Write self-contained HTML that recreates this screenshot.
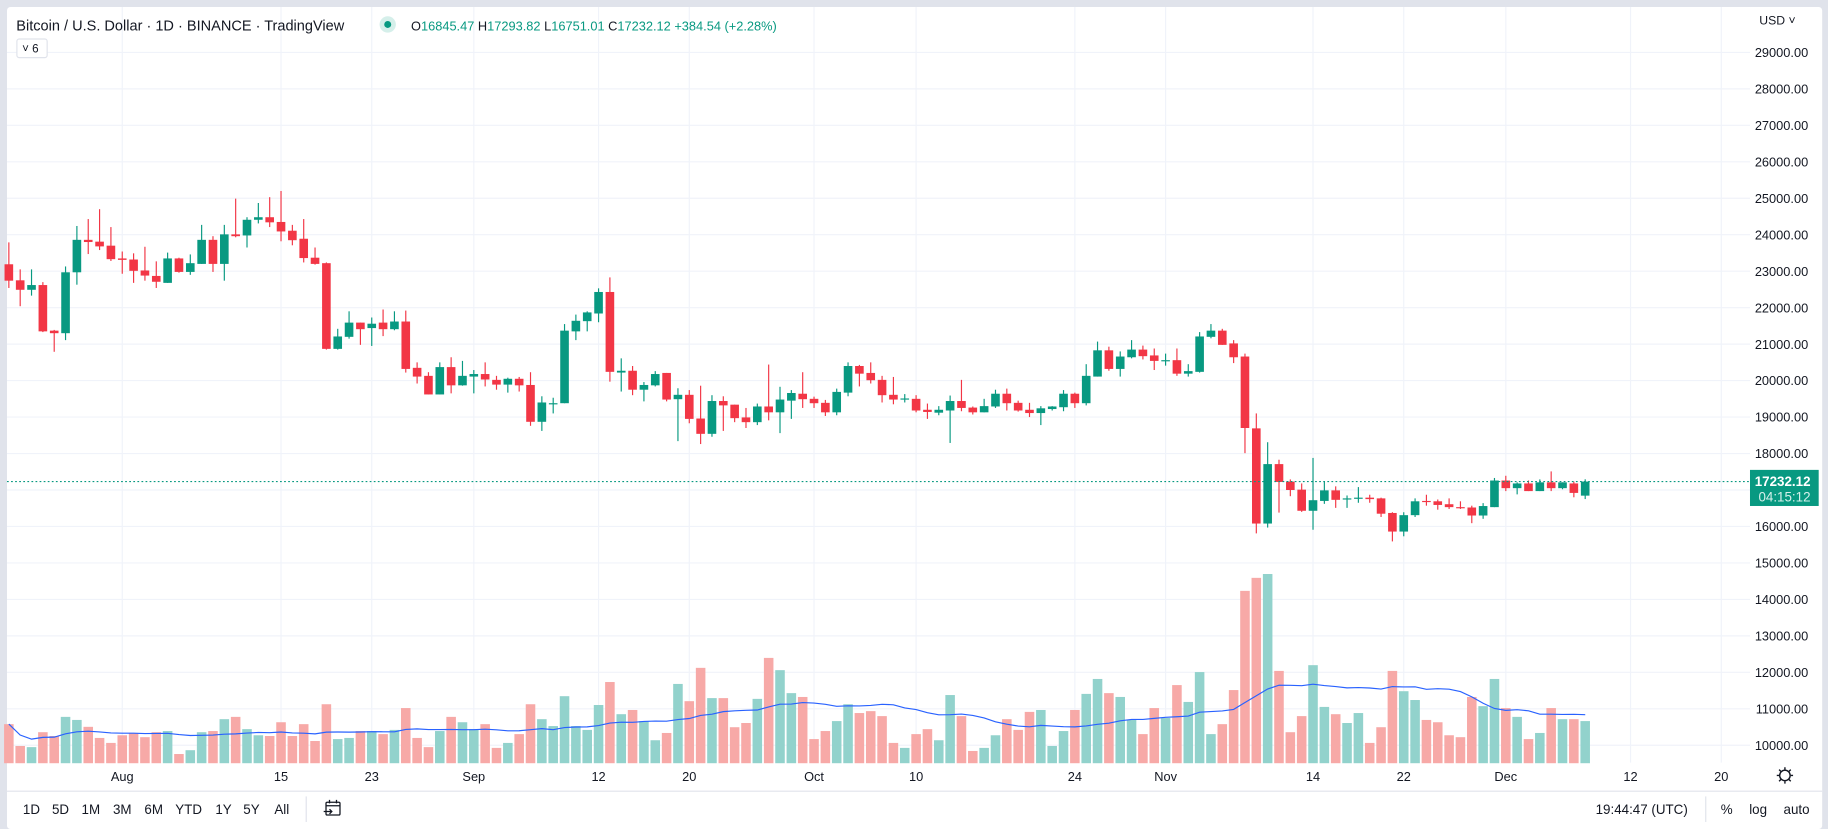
<!DOCTYPE html>
<html><head><meta charset="utf-8"><title>BTCUSD chart</title>
<style>
html,body{margin:0;padding:0;background:#e0e3eb;overflow:hidden}
svg{display:block}
text{font-family:"Liberation Sans",sans-serif}
</style></head>
<body>
<svg id="chart" width="1828" height="829" viewBox="0 0 1570 712" preserveAspectRatio="none" xmlns="http://www.w3.org/2000/svg">
  <rect x="0" y="0" width="1570" height="712" fill="#e0e3eb"/>
  <rect x="6" y="6" width="1559" height="706" rx="3" fill="#ffffff"/>
  <g id="grid"></g>
  <g id="volumes"></g>
  <path id="vma" fill="none" stroke="#2962ff" stroke-width="1"/>
  <g id="candles"></g>
  <line id="lastline" x1="6" x2="1503" stroke="#089981" stroke-width="1" stroke-dasharray="1.5,2"/>
  <g id="pricelabels"></g>
  <g id="timelabels"></g>
  <g>
    <rect id="badge" x="1503" width="59" height="31" fill="#089981"/>
    <text id="badgeP" x="1555" text-anchor="end" font-size="11.5" font-weight="bold" fill="#fff">17232.12</text>
    <text id="badgeT" x="1555" text-anchor="end" font-size="11.5" fill="#d6f0eb">04:15:12</text>
  </g>
  <text x="1511" y="21" font-size="10.5" fill="#131722">USD ˅</text>
  <text x="14" y="26" font-size="12.5" fill="#131722">Bitcoin / U.S. Dollar · 1D · BINANCE · TradingView</text>
  <circle cx="333" cy="21" r="7" fill="#d5efea"/>
  <circle cx="333" cy="21" r="3" fill="#089981"/>
  <text x="353" y="26" font-size="11" fill="#089981"><tspan fill="#131722">O</tspan>16845.47 <tspan fill="#131722">H</tspan>17293.82 <tspan fill="#131722">L</tspan>16751.01 <tspan fill="#131722">C</tspan>17232.12 +384.54 (+2.28%)</text>
  <rect x="14.5" y="33.5" width="26" height="16" rx="2" fill="#fff" stroke="#e0e3eb"/>
  <text x="19" y="45" font-size="10" fill="#131722">˅ 6</text>
  <line x1="6" x2="1565" y1="679.5" y2="679.5" stroke="#e0e3eb"/>
  <g transform="translate(1533,666)">
    <circle r="4.5" fill="none" stroke="#131722" stroke-width="1.2"/>
    <path d="M0,-7V-5M0,5V7M-7,0H-5M5,0H7M-5,-5L-3.5,-3.5M3.5,3.5L5,5M-5,5L-3.5,3.5M3.5,-3.5L5,-5" stroke="#131722" stroke-width="1.2"/>
  </g>
  <g font-size="11.5" fill="#131722" text-anchor="middle">
    <text x="27" y="699">1D</text>
    <text x="52" y="699">5D</text>
    <text x="78" y="699">1M</text>
    <text x="105" y="699">3M</text>
    <text x="132" y="699">6M</text>
    <text x="162" y="699">YTD</text>
    <text x="192" y="699">1Y</text>
    <text x="216" y="699">5Y</text>
    <text x="242" y="699">All</text>
  </g>
  <line x1="263" x2="263" y1="684" y2="706" stroke="#e0e3eb"/>
  <g stroke="#131722" fill="none" stroke-width="1.1">
    <rect x="280" y="689" width="12" height="11" rx="1"/>
    <path d="M280,692H292M283,687V690M289,687V690M278,697H285M283,695L285,697L283,699"/>
  </g>
  <text x="1410" y="699" font-size="11.5" text-anchor="middle" fill="#131722">19:44:47 (UTC)</text>
  <line x1="1465" x2="1465" y1="684" y2="706" stroke="#e0e3eb"/>
  <text x="1483" y="699" font-size="11.5" text-anchor="middle" fill="#131722">%</text>
  <text x="1510" y="699" font-size="11.5" text-anchor="middle" fill="#131722">log</text>
  <text x="1543" y="699" font-size="11.5" text-anchor="middle" fill="#131722">auto</text>
</svg>
<script>
const opens=[23190,22750,22490,22620,21370,21300,22970,23860,23810,23700,23350,23320,23020,22870,22680,23350,22980,23200,23860,23200,24010,23980,24410,24480,24350,24110,23890,23370,23220,20870,21200,21590,21440,21590,21410,21620,20350,20130,19620,20370,19870,20110,20180,20020,19890,20050,19880,18870,19360,19380,21350,21630,21840,22430,20220,20270,19750,19870,20210,19490,19610,18960,18540,19440,19340,18990,18860,19290,19130,19450,19640,19500,19390,19130,19670,20400,20210,20020,19610,19490,19500,19200,19120,19180,19440,19260,19130,19290,19640,19390,19200,19110,19220,19270,19640,19380,20110,20830,20320,20640,20850,20690,20540,20560,20190,20240,21200,21370,21020,20660,18690,16080,17710,17230,17010,16430,16700,16990,16750,16770,16790,16770,16370,15860,16310,16700,16690,16610,16530,16520,16300,16530,17260,17050,17180,16970,17210,17050,17180,16845];
const highs=[23790,23050,23050,22700,21390,23130,24240,24430,24700,24210,23540,23490,23670,23270,23510,23370,23460,24270,23960,24270,24990,24480,24870,25030,25200,24270,24430,23650,23240,21420,21900,21590,21730,21950,21900,21920,20500,20230,20500,20640,20540,20290,20500,20130,20080,20100,20230,19570,19530,21550,21810,21900,22530,22830,20610,20400,19960,20260,20210,19790,19740,19860,19600,19570,19340,19250,19370,20440,19830,19740,20230,19560,19470,19780,20500,20430,20500,20130,20100,19630,19600,19370,19300,19590,20020,19290,19500,19750,19780,19450,19390,19300,19300,19740,19670,20450,21070,20930,20800,21110,20960,20880,20740,20880,20450,21330,21550,21420,21110,20740,19100,18310,17830,17290,17180,17880,17230,17100,16850,17080,16870,16790,16390,16390,16770,16870,16740,16770,16690,16570,16640,17330,17390,17210,17260,17290,17510,17210,17230,17293];
const lows=[22540,22040,22330,21330,20790,21110,22630,23470,23580,23280,22930,22680,22740,22540,22680,22960,22900,23200,22980,22740,23930,23650,24310,24210,23820,23710,23240,23180,20850,20850,21150,20980,20950,21220,21380,20220,19920,19620,19620,19650,19860,19650,19840,19750,19670,19700,18760,18620,19100,19380,21110,21350,21600,19970,19700,19600,19430,19840,19430,18340,18830,18260,18460,18620,18860,18700,18780,18910,18560,18950,19250,19250,19030,19050,19570,19840,19920,19400,19350,19400,19130,18950,19050,18290,19160,19070,19130,19250,19180,19150,19000,18780,19180,19160,19250,19320,20110,20270,20110,20610,20580,20290,20410,20130,20110,20220,21160,20980,20480,18010,15810,15970,16380,16830,16400,15910,16620,16510,16510,16650,16650,16260,15590,15730,16260,16570,16460,16480,16480,16090,16210,16530,16970,16880,16970,16970,16970,17020,16800,16751];
const closes=[22740,22490,22620,21350,21300,22970,23860,23800,23680,23330,23310,23010,22880,22710,23350,22980,23220,23860,23200,24010,23960,24410,24480,24340,24090,23850,23360,23200,20870,21210,21590,21410,21560,21410,21620,20320,20110,19620,20370,19870,20130,20180,20030,19890,20050,19870,18870,19400,19380,21370,21640,21870,22430,20240,20270,19750,19880,20180,19480,19610,18950,18540,19440,19320,18970,18860,19290,19130,19480,19660,19490,19380,19130,19690,20400,20190,20010,19600,19480,19510,19180,19140,19200,19440,19250,19130,19300,19640,19380,19180,19110,19240,19290,19640,19380,20130,20830,20320,20660,20850,20670,20540,20560,20190,20260,21210,21370,20980,20640,18700,16080,17710,17220,17000,16430,16720,16990,16730,16770,16790,16750,16350,15860,16310,16690,16670,16590,16530,16510,16300,16560,17260,17050,17180,16970,17210,17050,17210,16920,17232];
const volumes=[102,45,42,81,71,121,113,95,66,53,73,79,68,81,84,24,34,81,84,115,121,89,73,71,107,71,102,58,154,63,66,84,84,76,87,144,66,42,84,121,107,89,102,40,53,76,154,115,97,175,97,87,152,212,128,139,110,60,79,207,162,249,170,170,94,105,168,275,243,183,173,63,84,110,154,131,136,123,53,40,76,89,60,178,123,32,40,73,115,87,134,139,45,84,139,181,220,183,173,113,76,144,118,204,160,238,76,102,191,450,484,494,241,81,123,256,147,128,105,131,53,94,241,188,165,113,107,73,68,173,149,220,144,121,63,79,144,115,115,110];
const priceTicks=[29000,28000,27000,26000,25000,24000,23000,22000,21000,20000,19000,18000,17000,16000,15000,14000,13000,12000,11000,10000];
const tickLabels=['Aug','15','23','Sep','12','20','Oct','10','24','Nov','14','22','Dec','12','20'];
const tickDays=[10,24,32,41,52,60,71,80,94,102,115,123,132,143,151];
const lastPrice=17232.12;

const NS='http://www.w3.org/2000/svg';
function xScale(i){return 105+9.74*(i-10);}
function yScale(p){return 45+(29000-p)*0.03132;}
function vScale(v){return 655.5-v/3.04;}
function mk(tag,attrs,parent){const e=document.createElementNS(NS,tag);for(const k in attrs)e.setAttribute(k,attrs[k]);parent.appendChild(e);return e;}

const grid=document.getElementById('grid');
priceTicks.forEach(p=>{
  const l=mk('line',{x1:6,x2:1503,y1:yScale(p),y2:yScale(p),stroke:'#f0f3fa'},grid);
  
  
});
tickDays.forEach(d=>{
  const l=mk('line',{x1:xScale(d),x2:xScale(d),y1:6,y2:655,stroke:'#f0f3fa'},grid);
  
  
});

const pl=document.getElementById('pricelabels');
priceTicks.forEach(p=>{
  if(Math.abs(p-lastPrice)<600)return;
  const t=mk('text',{x:1553,y:yScale(p)+4,'font-size':'11','text-anchor':'end',fill:'#131722'},pl);
  t.textContent=p.toFixed(2);
  
  
});
const tl=document.getElementById('timelabels');
tickLabels.forEach((s,k)=>{
  const t=mk('text',{x:xScale(tickDays[k]),y:671,'font-size':'11','text-anchor':'middle',fill:'#131722'},tl);
  t.textContent=s;
  
  
});

const vg=document.getElementById('volumes');
volumes.forEach((v,i)=>{
  const up=closes[i]>=opens[i];
  const r=mk('rect',{x:xScale(i)-4.1,y:vScale(v),width:8.2,height:655.5-vScale(v),fill:up?'#92d2cc':'#f7a9a7'},vg);
  
  
});
let d='';
for(let i=0;i<volumes.length;i++){
  const s=volumes.slice(Math.max(0,i-19),i+1);
  const m=s.reduce((a,b)=>a+b,0)/s.length;
  d+=(i?'L':'M')+xScale(i).toFixed(1)+','+vScale(m).toFixed(1);
}
document.getElementById('vma').setAttribute('d',d);

const cg=document.getElementById('candles');
opens.forEach((o,i)=>{
  const c=closes[i],up=c>=o,col=up?'#089981':'#f23645',x=xScale(i);
  const g=mk('g',{},cg);
  
  
  mk('line',{x1:x,x2:x,y1:yScale(highs[i]),y2:yScale(lows[i]),stroke:col,'stroke-width':1},g);
  const top=yScale(Math.max(o,c)),bot=yScale(Math.min(o,c));
  mk('rect',{x:x-3.7,y:top,width:7.4,height:Math.max(1,bot-top),fill:col},g);
});

const ly=yScale(lastPrice);
const ll=document.getElementById('lastline');ll.setAttribute('y1',ly);ll.setAttribute('y2',ly);
document.getElementById('badge').setAttribute('y',ly-10);
document.getElementById('badgeP').setAttribute('y',ly+4);
document.getElementById('badgeT').setAttribute('y',ly+17);
</script>
</body></html>
